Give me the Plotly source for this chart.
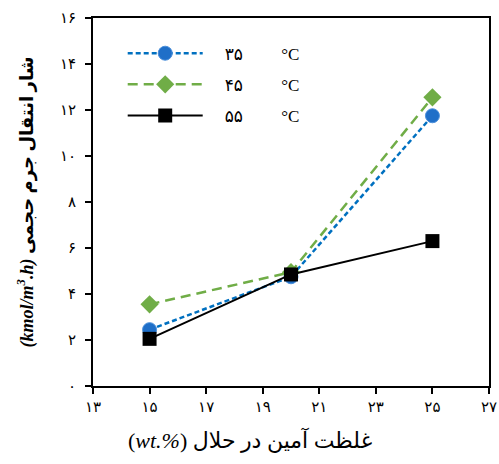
import plotly.graph_objects as go

# amine concentration (wt.%)
concentration = [15, 20, 25]

# volumetric mass transfer flux (kmol/m3.h) at each temperature
flux_35 = [2.45, 4.75, 11.75]
flux_45 = [3.55, 4.95, 12.55]
flux_55 = [2.05, 4.85, 6.3]

temp_labels = ["۳۵", "۴۵", "۵۵"]

x_ticks = [13, 15, 17, 19, 21, 23, 25, 27]
x_tick_text = ["۱۳", "۱۵", "۱۷", "۱۹", "۲۱", "۲۳", "۲۵", "۲۷"]
y_ticks = [0, 2, 4, 6, 8, 10, 12, 14, 16]
y_tick_text = ["۰", "۲", "۴", "۶", "۸", "۱۰", "۱۲", "۱۴", "۱۶"]

FONT = "Liberation Serif, DejaVu Sans, serif"
NB = "\u00a0"


def legend_name(t):
    return f"{NB * 4}{t}{NB * 9}°C"


fig = go.Figure()

fig.add_trace(go.Scatter(
    x=concentration, y=flux_35, mode="lines+markers",
    name=legend_name(temp_labels[0]), legendgroup="a",
    line=dict(color="#0070C0", width=2.5, dash="5px,3px"),
    marker=dict(symbol="circle", size=14, color="#1F6FC8",
                line=dict(color="#4A8FDB", width=1)),
))
fig.add_trace(go.Scatter(
    x=concentration, y=flux_45, mode="lines+markers",
    name=legend_name(temp_labels[1]), legendgroup="b",
    line=dict(color="#70AD47", width=2.5, dash="10px,6px"),
    marker=dict(symbol="diamond", size=14, color="#70AD47"),
))
fig.add_trace(go.Scatter(
    x=concentration, y=flux_55, mode="lines+markers",
    name=legend_name(temp_labels[2]), legendgroup="c",
    line=dict(color="#000000", width=2),
    marker=dict(symbol="square", size=14, color="#000000"),
))

axis_common = dict(
    showline=True, linecolor="black", linewidth=2, mirror=True,
    ticks="outside", ticklen=6, tickwidth=2, tickcolor="black",
    showgrid=False, zeroline=False, automargin=False,
    tickfont=dict(family=FONT, size=15, color="black"),
)

fig.update_layout(
    width=499, height=464,
    margin=dict(l=93, r=10, t=18, b=78),
    paper_bgcolor="white", plot_bgcolor="white",
    font=dict(family=FONT, color="black"),
    showlegend=True,
    legend=dict(
        x=0.075, y=0.952, xanchor="left", yanchor="top",
        bgcolor="rgba(0,0,0,0)", itemwidth=75,
        tracegroupgap=6,
        font=dict(family=FONT, size=17, color="black"),
    ),
    xaxis=dict(
        range=[13, 27], tickvals=x_ticks, ticktext=x_tick_text,
        **axis_common,
    ),
    yaxis=dict(
        range=[0, 16], tickvals=y_ticks, ticktext=y_tick_text,
        ticklabelstandoff=6,
        title=dict(text="<b><i>(kmol/m<sup>3</sup>.h)</i> شار انتقال جرم حجمی</b>",
                   font=dict(family=FONT, size=18, color="black"),
                   standoff=22),
        **axis_common,
    ),
    annotations=[dict(
        text="(<i>wt.%</i>) غلظت آمین در حلال",
        xref="paper", yref="paper", x=0.396, y=-0.148,
        xanchor="center", yanchor="middle", showarrow=False,
        font=dict(family=FONT, size=22, color="black"),
    )],
)

fig.write_html("out.html")
